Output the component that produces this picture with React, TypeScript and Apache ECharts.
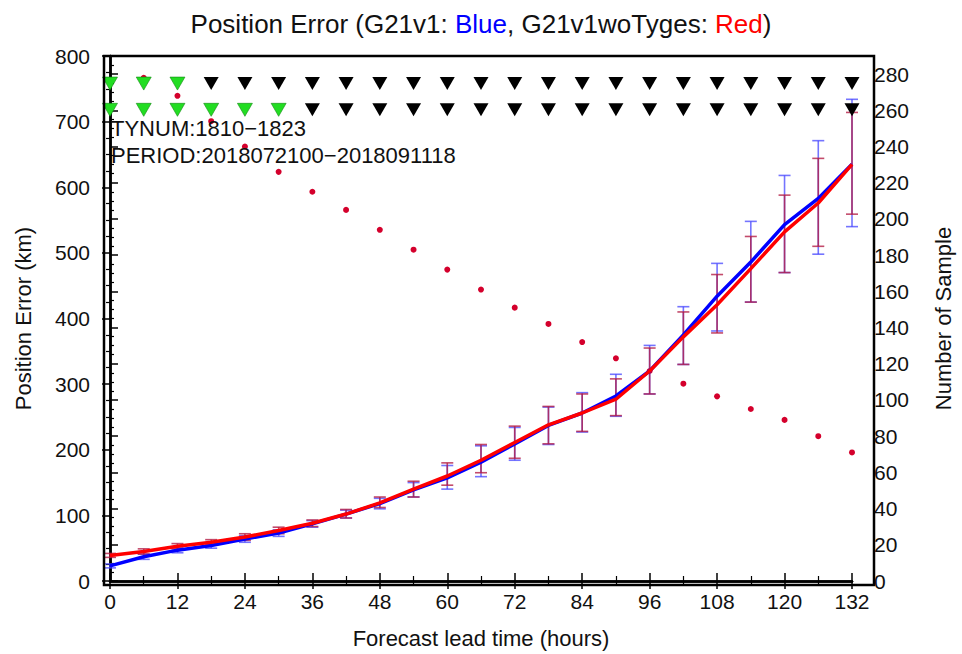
import React, { useEffect, useRef } from "react";
import * as echarts from "echarts";

// Forecast lead times (hours)
const hours = [0, 6, 12, 18, 24, 30, 36, 42, 48, 54, 60, 66, 72, 78, 84, 90, 96, 102, 108, 114, 120, 126, 132];

// G21v1 (blue) mean position error (km) and error bar bounds
const blueMean = [23, 37, 47, 54, 64, 73, 87, 102, 118, 139, 157, 181, 209, 237, 256, 282, 320, 375, 434, 486, 543, 583, 635];
const blueHigh = [26, 41, 51, 58, 69, 78, 92, 108, 126, 150, 176, 206, 234, 265, 287, 315, 359, 418, 484, 548, 618, 671, 734];
const blueLow = [20, 33, 43, 50, 59, 68, 82, 96, 110, 128, 140, 159, 184, 208, 227, 251, 285, 330, 381, 425, 470, 498, 540];

// G21v1woTyges (red) mean position error (km) and error bar bounds
const redMean = [39, 45, 53, 59, 67, 77, 88, 102, 119, 140, 160, 184, 211, 238, 256, 277, 320, 372, 421, 476, 532, 576, 635];
const redHigh = [42, 49, 57, 63, 72, 82, 93, 109, 128, 152, 180, 208, 236, 266, 285, 308, 355, 410, 467, 525, 588, 644, 714];
const redLow = [36, 41, 49, 55, 62, 72, 83, 96, 112, 128, 146, 165, 187, 209, 228, 252, 285, 330, 378, 425, 470, 510, 559];

// Number of samples (right axis)
const sampleCount = [276, 278, 268, 254, 240, 226, 215, 205, 194, 183, 172, 161, 151, 142, 132, 123, 116, 109, 102, 95, 89, 80, 71];

// Significance markers: true = green, false = black
const upperRowFlags = [true, true, true, false, false, false, false, false, false, false, false, false, false, false, false, false, false, false, false, false, false, false, false];
const lowerRowFlags = [true, true, true, true, true, true, false, false, false, false, false, false, false, false, false, false, false, false, false, false, false, false, false];
const upperRowLevel = 758;
const lowerRowLevel = 718;

const leftTicks = { min: 0, max: 800, interval: 100 };
const rightTicks = { min: 0, max: 290, interval: 20 };
const xTicks = { min: 0, max: 132, interval: 12 };

const FONT = "Liberation Sans, Arial, Helvetica, sans-serif";

function errorBarSeries(name: string, low: number[], high: number[], color: string, z: number) {
  return {
    name,
    type: "custom",
    xAxisIndex: 0,
    yAxisIndex: 0,
    z,
    clip: false,
    encode: { x: 0, y: [1, 2] },
    data: hours.map((h, i) => [h, low[i], high[i]]),
    renderItem: (params: any, api: any) => {
      const x = api.value(0);
      const lo = api.coord([x, api.value(1)]);
      const hi = api.coord([x, api.value(2)]);
      const hw = 6;
      const style = { stroke: color, lineWidth: 1.6 };
      return {
        type: "group",
        children: [
          { type: "line", shape: { x1: lo[0], y1: lo[1], x2: hi[0], y2: hi[1] }, style },
          { type: "line", shape: { x1: lo[0] - hw, y1: lo[1], x2: lo[0] + hw, y2: lo[1] }, style },
          { type: "line", shape: { x1: hi[0] - hw, y1: hi[1], x2: hi[0] + hw, y2: hi[1] }, style },
        ],
      };
    },
  };
}

function markerRow(flags: boolean[], level: number) {
  return {
    type: "scatter",
    xAxisIndex: 0,
    yAxisIndex: 0,
    z: 10,
    clip: false,
    symbol: "triangle",
    symbolRotate: 180,
    symbolSize: [15, 13],
    data: hours.map((h, i) => ({
      value: [h, level],
      itemStyle: flags[i]
        ? { color: "#22dd22", borderColor: "#118811", borderWidth: 0.6, opacity: 1 }
        : { color: "#000000", opacity: 1 },
    })),
  };
}

export default function App() {
  const ref = useRef<HTMLDivElement>(null);
  useEffect(() => {
    if (!ref.current) return;
    const chart = echarts.init(ref.current, undefined, { renderer: "svg" });
    const axisLabelStyle = { color: "#111", fontSize: 21, fontFamily: FONT };
    const nameStyle = { color: "#111", fontSize: 22, fontFamily: FONT };
    const titleRich = { fontSize: 26, fontWeight: "normal", fontFamily: FONT };
    chart.setOption({
      animation: false,
      backgroundColor: "#ffffff",
      title: {
        text: "{a|Position Error (G21v1: }{b|Blue}{a|, G21v1woTyges: }{c|Red}{a|)}",
        left: "center",
        top: 6,
        textStyle: {
          fontFamily: FONT,
          fontWeight: "normal",
          rich: {
            a: { ...titleRich, color: "#111" },
            b: { ...titleRich, color: "#0000ff" },
            c: { ...titleRich, color: "#ff0000" },
          },
        },
      },
      grid: { left: 110, right: 96, top: 56, bottom: 69 },
      xAxis: [
        {
          type: "value",
          position: "bottom",
          ...xTicks,
          name: "Forecast lead time (hours)",
          nameLocation: "middle",
          nameGap: 46,
          nameTextStyle: nameStyle,
          axisLine: { show: true, lineStyle: { color: "#000", width: 2.5 } },
          axisTick: { show: true, inside: false, length: 8, lineStyle: { color: "#000", width: 1.5 } },
          minorTick: { show: true, splitNumber: 2, length: 5, lineStyle: { color: "#000", width: 1.2 } },
          axisLabel: { ...axisLabelStyle, margin: 10 },
          splitLine: { show: false },
          minorSplitLine: { show: false },
        },
        {
          type: "value",
          position: "top",
          ...xTicks,
          axisLine: { show: true, lineStyle: { color: "#000", width: 2.5 } },
          axisTick: { show: true, inside: false, length: 8, lineStyle: { color: "#000", width: 1.5 } },
          minorTick: { show: true, splitNumber: 2, length: 5, lineStyle: { color: "#000", width: 1.2 } },
          axisLabel: { show: false },
          splitLine: { show: false },
        },
      ],
      yAxis: [
        {
          type: "value",
          position: "left",
          offset: 6,
          ...leftTicks,
          name: "Position Error (km)",
          nameLocation: "middle",
          nameGap: 70,
          nameTextStyle: nameStyle,
          axisLine: { show: true, lineStyle: { color: "#000", width: 2.5 } },
          axisTick: { show: true, inside: false, length: 8, lineStyle: { color: "#000", width: 1.5 } },
          minorTick: { show: true, splitNumber: 4, length: 4, lineStyle: { color: "#000", width: 1.2 } },
          axisLabel: { ...axisLabelStyle, margin: 14 },
          splitLine: { show: false },
        },
        {
          type: "value",
          position: "right",
          offset: 8,
          ...rightTicks,
          name: "Number of Sample",
          nameLocation: "middle",
          nameGap: 72,
          nameTextStyle: nameStyle,
          axisLine: { show: true, lineStyle: { color: "#000", width: 2.5 } },
          axisTick: { show: true, inside: false, length: 8, lineStyle: { color: "#000", width: 1.5 } },
          minorTick: { show: true, splitNumber: 4, length: 4, lineStyle: { color: "#000", width: 1.2 } },
          axisLabel: { ...axisLabelStyle, margin: 14, showMaxLabel: false },
          splitLine: { show: false },
        },
      ],
      graphic: [
        {
          type: "rect",
          z: 100,
          shape: { x: 104, y: 56, width: 770, height: 529 },
          style: { fill: "none", stroke: "#000", lineWidth: 2.5 },
          silent: true,
        },
        {
          type: "text",
          left: 111,
          top: 117,
          z: 100,
          style: { text: "TYNUM:1810\u22121823", fill: "#111", font: `22px ${FONT}` },
        },
        {
          type: "text",
          left: 111,
          top: 144,
          z: 100,
          style: { text: "PERIOD:2018072100\u22122018091118", fill: "#111", font: `22px ${FONT}` },
        },
      ],
      series: [
        {
          name: "Number of Sample",
          type: "scatter",
          xAxisIndex: 0,
          yAxisIndex: 1,
          z: 1,
          symbolSize: 6,
          itemStyle: { color: "#d4002c", opacity: 1 },
          data: hours.map((h, i) => [h, sampleCount[i]]),
        },
        errorBarSeries("G21v1 range", blueLow, blueHigh, "rgba(70,70,255,0.75)", 2),
        errorBarSeries("G21v1woTyges range", redLow, redHigh, "rgba(180,30,70,0.8)", 3),
        {
          name: "G21v1",
          type: "line",
          xAxisIndex: 0,
          yAxisIndex: 0,
          z: 4,
          clip: false,
          showSymbol: false,
          lineStyle: { color: "#0000ff", width: 3.5 },
          data: hours.map((h, i) => [h, blueMean[i]]),
        },
        {
          name: "G21v1woTyges",
          type: "line",
          xAxisIndex: 0,
          yAxisIndex: 0,
          z: 5,
          clip: false,
          showSymbol: false,
          lineStyle: { color: "#ff0000", width: 3.5 },
          data: hours.map((h, i) => [h, redMean[i]]),
        },
        markerRow(upperRowFlags, upperRowLevel),
        markerRow(lowerRowFlags, lowerRowLevel),
      ],
    });
    return () => chart.dispose();
  }, []);
  return <div ref={ref} style={{ width: 962, height: 654, position: "absolute", left: 0, top: 0 }} />;
}
